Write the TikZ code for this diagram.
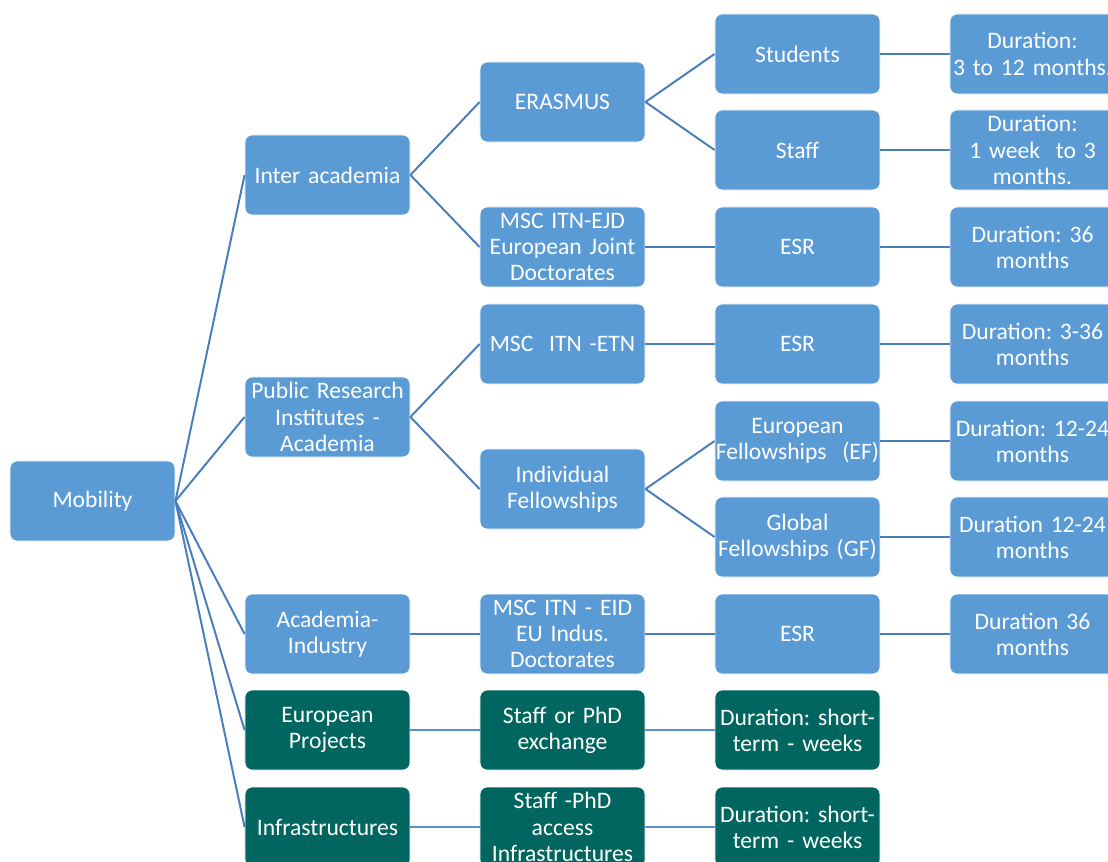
\documentclass[tikz,border=0pt]{standalone}
\usepackage{fontspec}
\setmainfont{Carlito}
\frenchspacing
\definecolor{boxblue}{HTML}{5B9BD5}
\definecolor{boxteal}{HTML}{00665F}
\definecolor{lineblue}{HTML}{4A7EBB}
\definecolor{linelight}{HTML}{5B8FCB}
\tikzset{
  box/.style={rectangle, rounded corners=5pt, fill=boxblue, draw=white, line width=0.6pt,
    minimum width=4.125cm, minimum height=2cm, text width=4.05cm, align=center,
    text=white, font=\fontsize{16.8}{18.6}\selectfont, inner sep=0pt},
  tealbox/.style={box, fill=boxteal},
  widebox/.style={box, text width=4.4cm, inner xsep=-0.14cm},
  link/.style={draw=lineblue, line width=1.4pt},
  lightlink/.style={draw=linelight, line width=1.4pt}
}
\begin{document}
\begin{tikzpicture}[x=0.025cm, y=-0.025cm]
  \useasboundingbox (0,0) rectangle (1108,861);
  \clip (0,0) rectangle (1108,861);
  % Root
  \node[box] (mob) at (92.5,501) {Mobility};
  % Second level
  \node[box] (inter) at (327.5,175) {Inter academia};
  \node[box] (pub) at (327.5,417) {Public Research\\Institutes -\\Academia};
  \node[box] (acind) at (327.5,634) {Academia-\\Industry};
  \node[tealbox] (eup) at (327.5,730) {European\\Projects};
  \node[tealbox] (infra) at (327.5,827) {Infrastructures};
  % Third level
  \node[box] (eras) at (562.5,102) {ERASMUS};
  \node[box] (ejd) at (562.5,247) {MSC ITN-EJD\\European Joint\\Doctorates};
  \node[box] (etn) at (562.5,344) {MSC\ \ ITN -ETN};
  \node[box] (indf) at (562.5,489) {Individual\\Fellowships};
  \node[box] (eid) at (562.5,634) {MSC ITN - EID\\EU Indus.\\Doctorates};
  \node[tealbox] (exch) at (562.5,730) {Staff or PhD\\exchange};
  \node[tealbox] (acc) at (562.5,827) {Staff -PhD\\access\\Infrastructures};
  % Fourth level
  \node[box] (stu) at (797.5,54) {Students};
  \node[box] (stf) at (797.5,150) {Staff};
  \node[box] (esr1) at (797.5,247) {ESR};
  \node[box] (esr2) at (797.5,344) {ESR};
  \node[widebox] (ef) at (797.5,441) {European\\Fellowships\ \ (EF)};
  \node[widebox] (gf) at (797.5,537) {Global\\Fellowships (GF)};
  \node[box] (esr3) at (797.5,634) {ESR};
  \node[tealbox] (dur7) at (797.5,730) {Duration: short-\\term - weeks};
  \node[tealbox] (dur8) at (797.5,827) {Duration: short-\\term - weeks};
  % Fifth level
  \node[box] (dur1) at (1032.5,54) {Duration:\\3 to 12 months.};
  \node[box] (dur2) at (1032.5,150) {Duration:\\1 week\ \ to 3\\months.};
  \node[box] (dur3) at (1032.5,247) {Duration: 36\\months};
  \node[box] (dur4) at (1032.5,344) {Duration: 3-36\\months};
  \node[box] (dur5) at (1032.5,441) {Duration: 12-24\\months};
  \node[box] (dur6) at (1032.5,537) {Duration 12-24\\months};
  \node[box] (dur9) at (1032.5,634) {Duration 36\\months};
  % Connectors
  \foreach \a/\b in {mob/inter, mob/pub, mob/acind, mob/eup, mob/infra,
      inter/eras, inter/ejd, pub/etn, pub/indf, acind/eid,
      eras/stu, eras/stf, ejd/esr1, etn/esr2, indf/ef, indf/gf, eid/esr3,
      stu/dur1, stf/dur2, esr1/dur3, esr2/dur4, ef/dur5, gf/dur6, esr3/dur9}
    \draw[link] (\a.east) -- (\b.west);
  \foreach \a/\b in {eup/exch, exch/dur7, infra/acc, acc/dur8}
    \draw[lightlink] (\a.east) -- (\b.west);
\end{tikzpicture}
\end{document}
